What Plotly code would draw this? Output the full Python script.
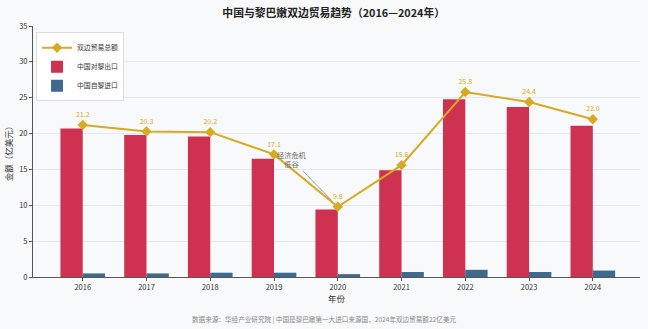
import plotly.graph_objects as go

years = ["2016", "2017", "2018", "2019", "2020", "2021", "2022", "2023", "2024"]
exports = [20.7, 19.8, 19.6, 16.5, 9.4, 14.9, 24.8, 23.7, 21.1]
imports = [0.5, 0.5, 0.6, 0.6, 0.4, 0.7, 1.0, 0.7, 0.9]
totals = [21.2, 20.3, 20.2, 17.1, 9.8, 15.6, 25.8, 24.4, 22.0]

FONT = "Noto Sans CJK SC"
RED = "#cf3150"
BLUE = "#3e6a8e"
GOLD = "#d6aa22"

fig = go.Figure()
fig.add_trace(go.Scatter(x=years, y=totals, name="双边贸易总额", mode="lines+markers+text",
                         line=dict(color=GOLD, width=2),
                         marker=dict(symbol="diamond", size=8, color=GOLD),
                         text=[f"{v:.1f}" for v in totals], textposition="top center",
                         textfont=dict(color=GOLD, size=7, family=FONT),
                         legendrank=1))
fig.add_trace(go.Bar(x=years, y=exports, name="中国对黎出口", marker_color=RED,
                     marker_line_width=0, legendrank=2))
fig.add_trace(go.Bar(x=years, y=imports, name="中国自黎进口", marker_color=BLUE,
                     marker_line_width=0, legendrank=3))

fig.update_layout(
    width=648, height=329,
    margin=dict(l=33, r=8, t=26, b=52),
    paper_bgcolor="#f8f9fa", plot_bgcolor="#f8f9fa",
    font=dict(family=FONT, size=8, color="#333333"),
    title=dict(text="<b>中国与黎巴嫩双边贸易趋势（2016—2024年）</b>", x=0.515, xanchor="center",
               y=0.97, yanchor="top", font=dict(size=10.8, color="#222222")),
    barmode="group", bargap=0.3, bargroupgap=0,
    showlegend=True,
    legend=dict(x=0.005, y=0.975, xanchor="left", yanchor="top",
                bgcolor="rgba(255,255,255,0.9)", bordercolor="#dddddd", borderwidth=1,
                font=dict(size=6.8), traceorder="normal", tracegroupgap=0, itemwidth=30),
    xaxis=dict(range=[-0.78, 8.74], showline=True, linecolor="#555555", linewidth=1,
               ticks="outside", ticklen=3, tickcolor="#555555", tickfont=dict(size=7.5),
               title=dict(text="年份", font=dict(size=8.5), standoff=4), showgrid=False),
    yaxis=dict(range=[0, 35], dtick=5, showline=True, linecolor="#555555", linewidth=1,
               ticks="outside", ticklen=3, tickcolor="#555555", tickfont=dict(size=7.5),
               title=dict(text="金额（亿美元）", font=dict(size=8.5), standoff=5),
               showgrid=True, gridcolor="#e6e8ea", gridwidth=0.6, zeroline=False),
)

fig.add_annotation(xref="x", yref="y", x=4, y=totals[4], text="经济危机<br>低谷", showarrow=True,
                   ax=-46, ay=-47, axref="pixel", ayref="pixel",
                   arrowhead=0, arrowwidth=0.8, arrowcolor="#888888",
                   standoff=9, font=dict(size=7.2, color="#666666", family=FONT))

fig.add_annotation(xref="paper", yref="paper", x=0.479, y=-0.14, yanchor="top",
                   text="数据来源：华经产业研究院 | 中国是黎巴嫩第一大进口来源国，2024年双边贸易额22亿美元",
                   showarrow=False, font=dict(size=6.6, color="#888888", family=FONT))

fig.write_html("out.html")
